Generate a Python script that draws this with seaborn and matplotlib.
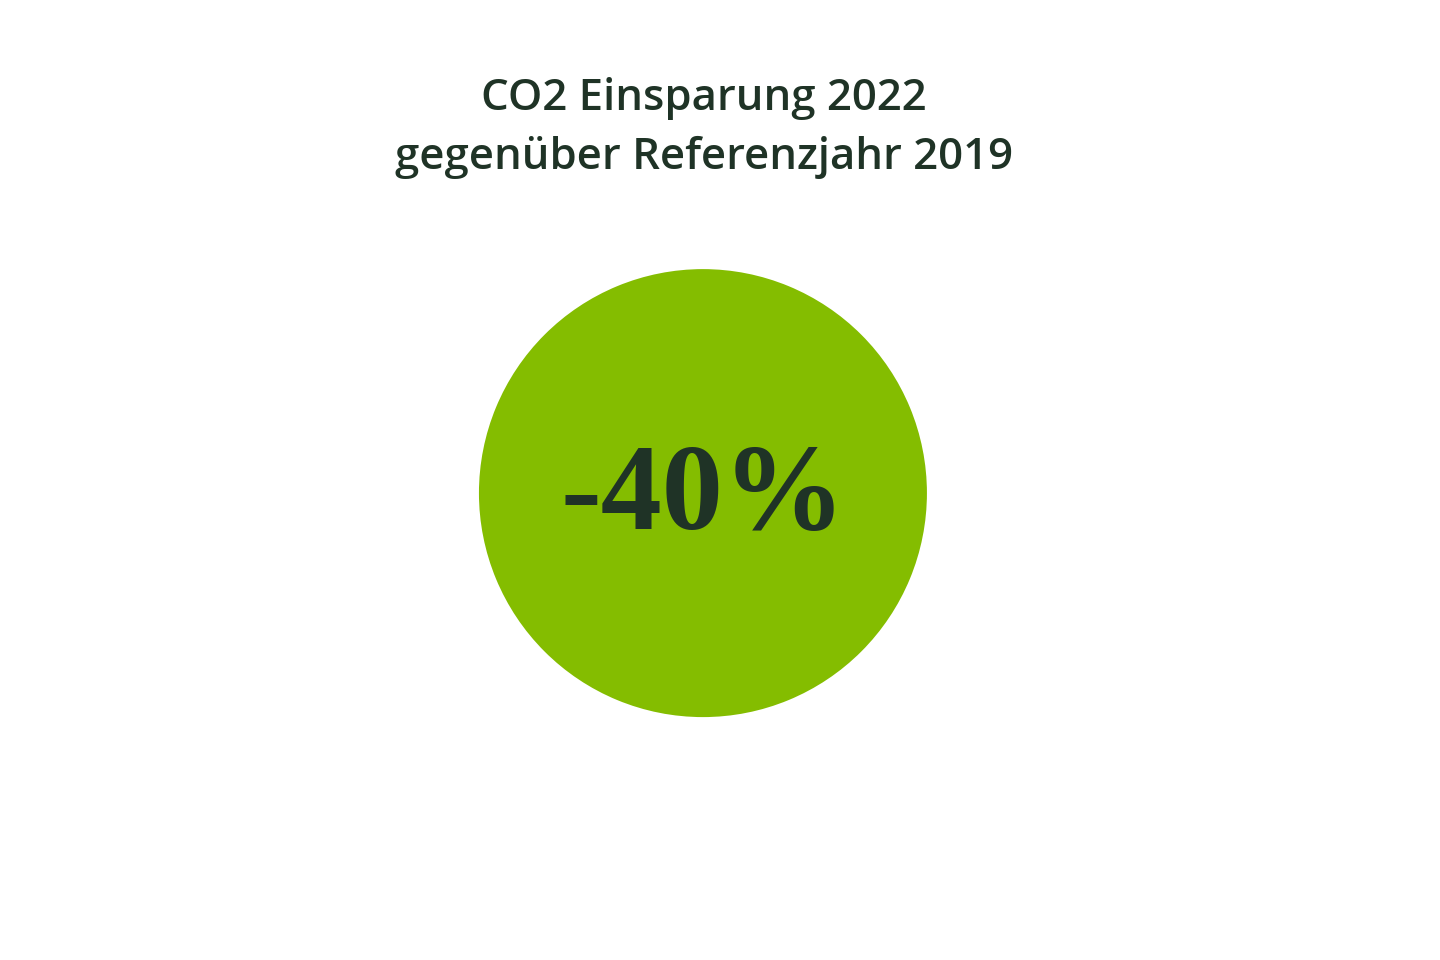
import matplotlib
matplotlib.use("Agg")
import matplotlib.pyplot as plt
import seaborn as sns

sns.set_theme(style="white")

title_lines = ["CO2 Einsparung 2022", "gegenüber Referenzjahr 2019"]
savings_pct = [-40]
slice_values = [100]
circle_color = "#84bd00"
text_color = "#1f3326"

fig = plt.figure(figsize=(14.4, 9.6), dpi=100)
fig.patch.set_facecolor("white")
ax = fig.add_axes([0.3326, 0.253, 0.3111, 0.4667])
ax.pie(slice_values, colors=[circle_color], startangle=90,
       wedgeprops=dict(linewidth=0))
ax.set_xlim(-1, 1)
ax.set_ylim(-1, 1)
ax.set_aspect("equal")
ax.axis("off")
ax.text(0, -0.03, f"{savings_pct[0]}%", ha="center", va="center",
        fontsize=88, color=text_color, family="Liberation Serif", fontweight="bold")

fig.text(0.489, 0.897, title_lines[0], ha="center", va="center",
         fontsize=31.5, color=text_color, family="Open Sans", fontweight="semibold")
fig.text(0.489, 0.836, title_lines[1], ha="center", va="center",
         fontsize=31.5, color=text_color, family="Open Sans", fontweight="semibold")

fig.savefig("out.png", dpi=100, facecolor="white")
